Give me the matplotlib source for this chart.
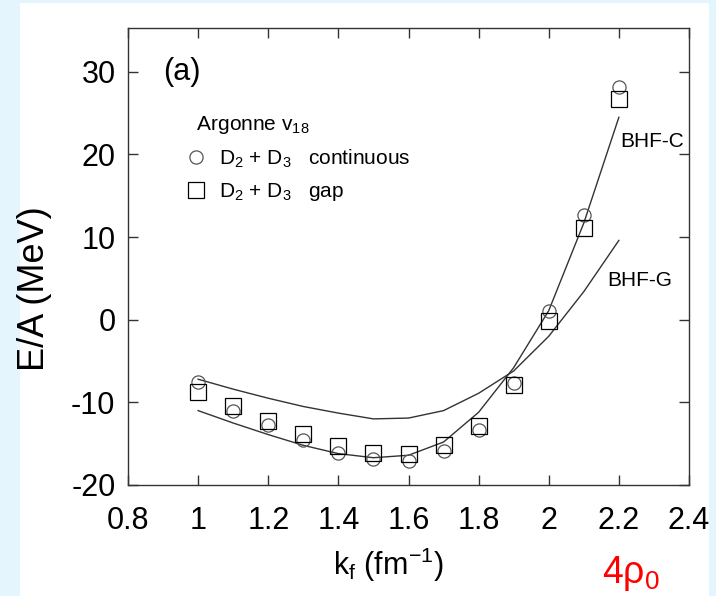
import matplotlib
matplotlib.use('Agg')
import matplotlib.pyplot as plt
from matplotlib.patches import Rectangle

plt.rcParams['font.family'] = ['Liberation Sans', 'DejaVu Sans']
plt.rcParams['mathtext.default'] = 'regular'
plt.rcParams['axes.unicode_minus'] = False

# k_f grid (fm^-1)
kf = [1.0, 1.1, 1.2, 1.3, 1.4, 1.5, 1.6, 1.7, 1.8, 1.9, 2.0, 2.1, 2.2]

# D2 + D3 continuous (circles) and gap (squares), E/A in MeV
ea_cont = [-7.5, -11.0, -12.7, -14.5, -16.1, -16.9, -17.1, -15.9, -13.3, -7.7, 1.1, 12.7, 28.2]
ea_gap = [-8.8, -10.4, -12.2, -13.8, -15.3, -16.1, -16.3, -15.2, -12.9, -7.9, -0.1, 11.1, 26.7]

# BHF curves
bhf_c = [-11.0, -12.5, -13.9, -15.2, -16.2, -16.7, -16.4, -14.8, -11.2, -5.8, 1.1, 11.7, 24.5]
bhf_g = [-7.2, -8.4, -9.5, -10.5, -11.3, -12.0, -11.9, -11.0, -8.9, -6.2, -2.0, 3.4, 9.6]

dpi = 100
fig = plt.figure(figsize=(716 / dpi, 596 / dpi), dpi=dpi)
fig.patch.set_facecolor('#e5f5fd')
# white panel behind the plot
fig.patches.append(Rectangle((20 / 716, 0), 689 / 716, 593 / 596, transform=fig.transFigure,
                             facecolor='white', edgecolor='none', zorder=-10))

ax = fig.add_axes([128 / 716, 1 - 485 / 596, 561 / 716, 457 / 596])
ax.set_facecolor('white')

ax.plot(kf, bhf_c, color='#333333', lw=1.0)
ax.plot(kf, bhf_g, color='#333333', lw=1.0)
ax.plot(kf, ea_cont, 'o', ms=9.5, mfc='none', mec='#555555', mew=0.9,
        label=r'D$_2$ + D$_3$   continuous')
ax.plot(kf, ea_gap, 's', ms=11, mfc='none', mec='black', mew=0.9,
        label=r'D$_2$ + D$_3$   gap')

ax.set_xlim(0.8, 2.4)
ax.set_ylim(-20, 35.3)
ax.set_xticks([0.8, 1.0, 1.2, 1.4, 1.6, 1.8, 2.0, 2.2, 2.4])
ax.set_xticklabels(['0.8', '1', '1.2', '1.4', '1.6', '1.8', '2', '2.2', '2.4'])
ax.set_yticks([-20, -10, 0, 10, 20, 30])
ax.tick_params(direction='in', top=True, right=True, length=7, width=1,
               labelsize=22, colors='#333333', labelcolor='black')
ax.tick_params(axis='x', pad=15)
ax.tick_params(axis='y', pad=9)
for s in ax.spines.values():
    s.set_color('#333333')
    s.set_linewidth(1.0)

ax.text(0.9, 30, '(a)', fontsize=22, ha='left', va='center')
ax.text(2.203, 21.6, 'BHF-C', fontsize=15, ha='left', va='center')
ax.text(2.166, 4.7, 'BHF-G', fontsize=15, ha='left', va='center')

leg = ax.legend(loc='upper left', bbox_to_anchor=(0.0875, 0.83), frameon=False,
                title=r'  Argonne v$_{18}$', title_fontsize=15, fontsize=15,
                handlelength=1.0, handletextpad=0.6, labelspacing=0.55,
                borderpad=0.4, borderaxespad=0, alignment='left')

fig.text(35 / 716, 1 - 289 / 596, 'E/A (MeV)', fontsize=26, rotation=90,
         ha='center', va='center')
fig.text(388 / 716, 1 - 575 / 596, r'k$_f$ (fm$^{-1}$)', fontsize=22,
         ha='center', va='baseline')
fig.text(602 / 716, 1 - 583 / 596, r'4ρ$_0$', fontsize=27, color='red',
         ha='left', va='baseline')

plt.savefig('out.png', dpi=dpi, facecolor=fig.get_facecolor())
